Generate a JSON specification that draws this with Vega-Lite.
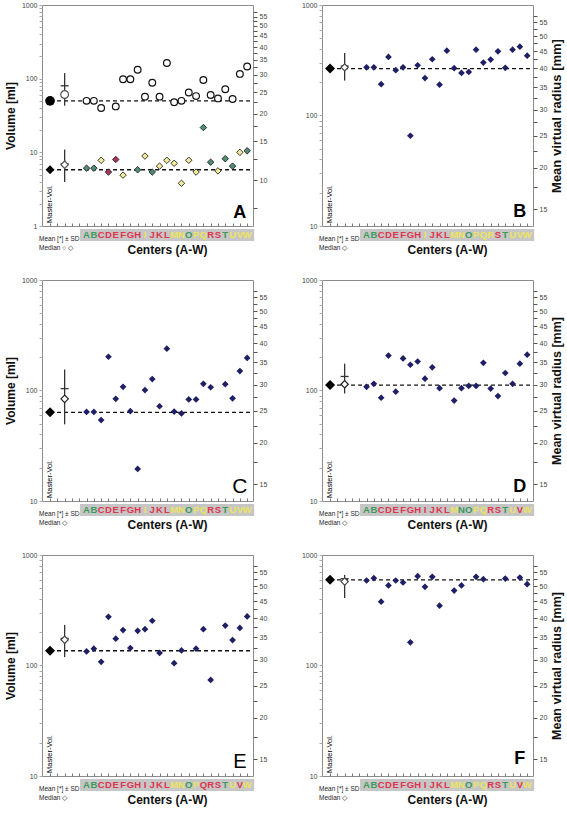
{
"$schema": "https://vega.github.io/schema/vega-lite/v6.json",
"padding": {"left": 3, "top": 0, "right": 2, "bottom": 2},
"config": {
  "font": "Liberation Sans",
  "view": {"stroke": "#8c8c8c", "strokeWidth": 1},
  "axis": {"grid": false, "labelFontSize": 7, "labelColor": "#444", "labelFont": "Liberation Sans", "titleFont": "Liberation Sans Narrow, Liberation Sans", "titleFontWeight": "bold", "titleColor": "#111", "titleFontSize": 12},
  "point": {"opacity": 1},
  "tick": {"opacity": 1}
},
"datasets": {
  "points": [
    {"panel":"A","series":"ring","center":"A","volume":50},{"panel":"A","series":"ring","center":"B","volume":50},{"panel":"A","series":"ring","center":"C","volume":40},{"panel":"A","series":"ring","center":"E","volume":42},{"panel":"A","series":"ring","center":"F","volume":98},{"panel":"A","series":"ring","center":"G","volume":98},{"panel":"A","series":"ring","center":"H","volume":132},{"panel":"A","series":"ring","center":"I","volume":57},{"panel":"A","series":"ring","center":"J","volume":88},{"panel":"A","series":"ring","center":"K","volume":57},{"panel":"A","series":"ring","center":"L","volume":163},{"panel":"A","series":"ring","center":"M","volume":48},{"panel":"A","series":"ring","center":"N","volume":50},{"panel":"A","series":"ring","center":"O","volume":65},{"panel":"A","series":"ring","center":"P","volume":58},{"panel":"A","series":"ring","center":"Q","volume":96},{"panel":"A","series":"ring","center":"R","volume":60},{"panel":"A","series":"ring","center":"S","volume":54},{"panel":"A","series":"ring","center":"T","volume":72},{"panel":"A","series":"ring","center":"U","volume":53},{"panel":"A","series":"ring","center":"V","volume":116},{"panel":"A","series":"ring","center":"W","volume":146},
    {"panel":"A","series":"diamond","center":"A","volume":6.1,"grp":"green"},{"panel":"A","series":"diamond","center":"B","volume":6.1,"grp":"green"},{"panel":"A","series":"diamond","center":"C","volume":7.8,"grp":"yellow"},{"panel":"A","series":"diamond","center":"D","volume":5.4,"grp":"red"},{"panel":"A","series":"diamond","center":"E","volume":8.0,"grp":"red"},{"panel":"A","series":"diamond","center":"F","volume":4.9,"grp":"yellow"},{"panel":"A","series":"diamond","center":"H","volume":5.8,"grp":"green"},{"panel":"A","series":"diamond","center":"I","volume":8.9,"grp":"yellow"},{"panel":"A","series":"diamond","center":"J","volume":5.4,"grp":"green"},{"panel":"A","series":"diamond","center":"K","volume":6.5,"grp":"yellow"},{"panel":"A","series":"diamond","center":"L","volume":7.8,"grp":"yellow"},{"panel":"A","series":"diamond","center":"M","volume":7.1,"grp":"yellow"},{"panel":"A","series":"diamond","center":"N","volume":3.8,"grp":"yellow"},{"panel":"A","series":"diamond","center":"O","volume":7.8,"grp":"yellow"},{"panel":"A","series":"diamond","center":"P","volume":5.4,"grp":"yellow"},{"panel":"A","series":"diamond","center":"Q","volume":21.7,"grp":"green"},{"panel":"A","series":"diamond","center":"R","volume":7.35,"grp":"green"},{"panel":"A","series":"diamond","center":"S","volume":5.6,"grp":"yellow"},{"panel":"A","series":"diamond","center":"T","volume":8.2,"grp":"green"},{"panel":"A","series":"diamond","center":"U","volume":6.5,"grp":"green"},{"panel":"A","series":"diamond","center":"V","volume":10.0,"grp":"yellow"},{"panel":"A","series":"diamond","center":"W","volume":10.5,"grp":"green"},
    {"panel":"B","center":"A","volume":273},{"panel":"B","center":"B","volume":273},{"panel":"B","center":"C","volume":192},{"panel":"B","center":"D","volume":339},{"panel":"B","center":"E","volume":257},{"panel":"B","center":"F","volume":273},{"panel":"B","center":"G","volume":65.6},{"panel":"B","center":"H","volume":285},{"panel":"B","center":"I","volume":218},{"panel":"B","center":"J","volume":323},{"panel":"B","center":"K","volume":190},{"panel":"B","center":"L","volume":386},{"panel":"B","center":"M","volume":268},{"panel":"B","center":"N","volume":243},{"panel":"B","center":"O","volume":248},{"panel":"B","center":"P","volume":394},{"panel":"B","center":"Q","volume":301},{"panel":"B","center":"R","volume":321},{"panel":"B","center":"S","volume":381},{"panel":"B","center":"T","volume":270},{"panel":"B","center":"U","volume":394},{"panel":"B","center":"V","volume":420},{"panel":"B","center":"W","volume":348},
    {"panel":"C","center":"A","volume":64},{"panel":"C","center":"B","volume":64},{"panel":"C","center":"C","volume":54},{"panel":"C","center":"D","volume":202},{"panel":"C","center":"E","volume":84},{"panel":"C","center":"F","volume":108},{"panel":"C","center":"G","volume":65},{"panel":"C","center":"H","volume":19.5},{"panel":"C","center":"I","volume":101},{"panel":"C","center":"J","volume":127},{"panel":"C","center":"K","volume":72},{"panel":"C","center":"L","volume":239},{"panel":"C","center":"M","volume":64.5},{"panel":"C","center":"N","volume":62},{"panel":"C","center":"O","volume":83},{"panel":"C","center":"P","volume":83},{"panel":"C","center":"Q","volume":115},{"panel":"C","center":"R","volume":107},{"panel":"C","center":"T","volume":114},{"panel":"C","center":"U","volume":85},{"panel":"C","center":"V","volume":150},{"panel":"C","center":"W","volume":197},
    {"panel":"D","center":"A","volume":108},{"panel":"D","center":"B","volume":115},{"panel":"D","center":"C","volume":86},{"panel":"D","center":"D","volume":207},{"panel":"D","center":"E","volume":97.6},{"panel":"D","center":"F","volume":195},{"panel":"D","center":"G","volume":171},{"panel":"D","center":"H","volume":183},{"panel":"D","center":"I","volume":128},{"panel":"D","center":"J","volume":162},{"panel":"D","center":"K","volume":105},{"panel":"D","center":"M","volume":81},{"panel":"D","center":"N","volume":105},{"panel":"D","center":"O","volume":110},{"panel":"D","center":"P","volume":110},{"panel":"D","center":"Q","volume":178},{"panel":"D","center":"R","volume":104},{"panel":"D","center":"S","volume":89},{"panel":"D","center":"T","volume":144},{"panel":"D","center":"U","volume":115},{"panel":"D","center":"V","volume":175},{"panel":"D","center":"W","volume":211},
    {"panel":"E","center":"A","volume":134},{"panel":"E","center":"B","volume":142},{"panel":"E","center":"C","volume":108},{"panel":"E","center":"D","volume":276},{"panel":"E","center":"E","volume":175},{"panel":"E","center":"F","volume":209},{"panel":"E","center":"G","volume":144},{"panel":"E","center":"H","volume":206},{"panel":"E","center":"I","volume":213},{"panel":"E","center":"J","volume":254},{"panel":"E","center":"K","volume":130},{"panel":"E","center":"M","volume":105},{"panel":"E","center":"N","volume":137},{"panel":"E","center":"P","volume":142},{"panel":"E","center":"Q","volume":213},{"panel":"E","center":"R","volume":74},{"panel":"E","center":"T","volume":230},{"panel":"E","center":"U","volume":170},{"panel":"E","center":"V","volume":219},{"panel":"E","center":"W","volume":278},
    {"panel":"F","center":"A","volume":588},{"panel":"F","center":"B","volume":617},{"panel":"F","center":"C","volume":378},{"panel":"F","center":"D","volume":530},{"panel":"F","center":"E","volume":588},{"panel":"F","center":"F","volume":564},{"panel":"F","center":"G","volume":162},{"panel":"F","center":"H","volume":643},{"panel":"F","center":"I","volume":515},{"panel":"F","center":"J","volume":634},{"panel":"F","center":"K","volume":348},{"panel":"F","center":"M","volume":477},{"panel":"F","center":"N","volume":530},{"panel":"F","center":"P","volume":634},{"panel":"F","center":"Q","volume":604},{"panel":"F","center":"T","volume":612},{"panel":"F","center":"V","volume":625},{"panel":"F","center":"W","volume":545}
  ],
  "summary": [
    {"panel":"A","series":"ring","master":50,"mean":80,"median":61,"sd_lo":43,"sd_hi":119},
    {"panel":"A","series":"diamond","master":5.8,"mean":7.0,"median":6.8,"sd_lo":3.95,"sd_hi":10.9},
    {"panel":"B","series":"diamond","master":266,"mean":280,"median":273,"sd_lo":207,"sd_hi":368},
    {"panel":"C","series":"diamond","master":63.5,"mean":104,"median":84,"sd_lo":49.4,"sd_hi":155},
    {"panel":"D","series":"diamond","master":112,"mean":134,"median":114,"sd_lo":94,"sd_hi":175},
    {"panel":"E","series":"diamond","master":136,"mean":176,"median":171,"sd_lo":119,"sd_hi":233},
    {"panel":"F","series":"diamond","master":596,"mean":610,"median":575,"sd_lo":408,"sd_hi":661}
  ],
  "strip": [
    {"panel":"A","center":"A","grp":"green"},{"panel":"A","center":"B","grp":"green"},{"panel":"A","center":"C","grp":"red"},{"panel":"A","center":"D","grp":"red"},{"panel":"A","center":"E","grp":"red"},{"panel":"A","center":"F","grp":"red"},{"panel":"A","center":"G","grp":"red"},{"panel":"A","center":"H","grp":"red"},{"panel":"A","center":"I","grp":"yellow"},{"panel":"A","center":"J","grp":"red"},{"panel":"A","center":"K","grp":"red"},{"panel":"A","center":"L","grp":"red"},{"panel":"A","center":"M","grp":"yellow"},{"panel":"A","center":"N","grp":"yellow"},{"panel":"A","center":"O","grp":"green"},{"panel":"A","center":"P","grp":"yellow"},{"panel":"A","center":"Q","grp":"yellow"},{"panel":"A","center":"R","grp":"red"},{"panel":"A","center":"S","grp":"red"},{"panel":"A","center":"T","grp":"green"},{"panel":"A","center":"U","grp":"yellow"},{"panel":"A","center":"V","grp":"yellow"},{"panel":"A","center":"W","grp":"yellow"},
    {"panel":"B","center":"A","grp":"green"},{"panel":"B","center":"B","grp":"green"},{"panel":"B","center":"C","grp":"red"},{"panel":"B","center":"D","grp":"red"},{"panel":"B","center":"E","grp":"red"},{"panel":"B","center":"F","grp":"red"},{"panel":"B","center":"G","grp":"red"},{"panel":"B","center":"H","grp":"red"},{"panel":"B","center":"I","grp":"yellow"},{"panel":"B","center":"J","grp":"red"},{"panel":"B","center":"K","grp":"red"},{"panel":"B","center":"L","grp":"red"},{"panel":"B","center":"M","grp":"yellow"},{"panel":"B","center":"N","grp":"yellow"},{"panel":"B","center":"O","grp":"green"},{"panel":"B","center":"P","grp":"yellow"},{"panel":"B","center":"Q","grp":"yellow"},{"panel":"B","center":"R","grp":"yellow"},{"panel":"B","center":"S","grp":"red"},{"panel":"B","center":"T","grp":"green"},{"panel":"B","center":"U","grp":"yellow"},{"panel":"B","center":"V","grp":"yellow"},{"panel":"B","center":"W","grp":"yellow"},
    {"panel":"C","center":"A","grp":"green"},{"panel":"C","center":"B","grp":"green"},{"panel":"C","center":"C","grp":"red"},{"panel":"C","center":"D","grp":"red"},{"panel":"C","center":"E","grp":"red"},{"panel":"C","center":"F","grp":"red"},{"panel":"C","center":"G","grp":"red"},{"panel":"C","center":"H","grp":"red"},{"panel":"C","center":"I","grp":"yellow"},{"panel":"C","center":"J","grp":"red"},{"panel":"C","center":"K","grp":"red"},{"panel":"C","center":"L","grp":"red"},{"panel":"C","center":"M","grp":"yellow"},{"panel":"C","center":"N","grp":"yellow"},{"panel":"C","center":"O","grp":"green"},{"panel":"C","center":"P","grp":"yellow"},{"panel":"C","center":"Q","grp":"yellow"},{"panel":"C","center":"R","grp":"red"},{"panel":"C","center":"S","grp":"red"},{"panel":"C","center":"T","grp":"green"},{"panel":"C","center":"U","grp":"yellow"},{"panel":"C","center":"V","grp":"yellow"},{"panel":"C","center":"W","grp":"yellow"},
    {"panel":"D","center":"A","grp":"green"},{"panel":"D","center":"B","grp":"green"},{"panel":"D","center":"C","grp":"red"},{"panel":"D","center":"D","grp":"red"},{"panel":"D","center":"E","grp":"red"},{"panel":"D","center":"F","grp":"red"},{"panel":"D","center":"G","grp":"red"},{"panel":"D","center":"H","grp":"red"},{"panel":"D","center":"I","grp":"red"},{"panel":"D","center":"J","grp":"red"},{"panel":"D","center":"K","grp":"red"},{"panel":"D","center":"L","grp":"red"},{"panel":"D","center":"M","grp":"yellow"},{"panel":"D","center":"N","grp":"green"},{"panel":"D","center":"O","grp":"green"},{"panel":"D","center":"P","grp":"yellow"},{"panel":"D","center":"Q","grp":"yellow"},{"panel":"D","center":"R","grp":"red"},{"panel":"D","center":"S","grp":"red"},{"panel":"D","center":"T","grp":"green"},{"panel":"D","center":"U","grp":"yellow"},{"panel":"D","center":"V","grp":"red"},{"panel":"D","center":"W","grp":"yellow"},
    {"panel":"E","center":"A","grp":"green"},{"panel":"E","center":"B","grp":"green"},{"panel":"E","center":"C","grp":"red"},{"panel":"E","center":"D","grp":"red"},{"panel":"E","center":"E","grp":"red"},{"panel":"E","center":"F","grp":"red"},{"panel":"E","center":"G","grp":"red"},{"panel":"E","center":"H","grp":"red"},{"panel":"E","center":"I","grp":"red"},{"panel":"E","center":"J","grp":"red"},{"panel":"E","center":"K","grp":"red"},{"panel":"E","center":"L","grp":"red"},{"panel":"E","center":"M","grp":"yellow"},{"panel":"E","center":"N","grp":"yellow"},{"panel":"E","center":"O","grp":"green"},{"panel":"E","center":"P","grp":"yellow"},{"panel":"E","center":"Q","grp":"red"},{"panel":"E","center":"R","grp":"red"},{"panel":"E","center":"S","grp":"red"},{"panel":"E","center":"T","grp":"green"},{"panel":"E","center":"U","grp":"yellow"},{"panel":"E","center":"V","grp":"red"},{"panel":"E","center":"W","grp":"yellow"},
    {"panel":"F","center":"A","grp":"green"},{"panel":"F","center":"B","grp":"green"},{"panel":"F","center":"C","grp":"red"},{"panel":"F","center":"D","grp":"red"},{"panel":"F","center":"E","grp":"red"},{"panel":"F","center":"F","grp":"red"},{"panel":"F","center":"G","grp":"red"},{"panel":"F","center":"H","grp":"red"},{"panel":"F","center":"I","grp":"red"},{"panel":"F","center":"J","grp":"red"},{"panel":"F","center":"K","grp":"red"},{"panel":"F","center":"L","grp":"red"},{"panel":"F","center":"M","grp":"yellow"},{"panel":"F","center":"N","grp":"yellow"},{"panel":"F","center":"O","grp":"green"},{"panel":"F","center":"P","grp":"yellow"},{"panel":"F","center":"Q","grp":"yellow"},{"panel":"F","center":"R","grp":"red"},{"panel":"F","center":"S","grp":"red"},{"panel":"F","center":"T","grp":"green"},{"panel":"F","center":"U","grp":"yellow"},{"panel":"F","center":"V","grp":"red"},{"panel":"F","center":"W","grp":"yellow"}
  ]
},
"spacing": 20,
"vconcat": [
 {"hconcat": [
  {"vconcat": [
   {"width": 211, "height": 221,
    "resolve": {"scale": {"y": "independent"}, "axis": {"y": "independent"}},
    "layer": [
     {"data": {"values": [{}]}, "mark": {"type": "rule", "opacity": 0},
      "encoding": {"y": {"datum": 20, "type": "quantitative", "scale": {"type": "log", "domain": [6.2035, 62.035], "nice": false},
        "axis": {"orient": "right", "values": [7.5,10,12.5,15,17.5,20,22.5,25,27.5,30,32.5,35,37.5,40,42.5,45,47.5,50,52.5,55,57.5], "labelExpr": "datum.value % 5 === 0 ? format(datum.value, 'd') : ''", "labelOverlap": false, "domain": false, "tickSize": 4, "tickColor": "#555", "labelPadding": 2, "title": null}}}},
     {"layer": [
      {"data": {"name": "summary"}, "transform": [{"filter": "datum.panel === 'A'"}],
       "mark": {"type": "rule", "strokeDash": [4, 3], "strokeWidth": 1.3, "color": "#111"},
       "encoding": {
        "x": {"datum": "Master", "type": "nominal", "scale": {"type": "point", "domain": ["Master","gap1","Mean","gap2","gap3","A","B","C","D","E","F","G","H","I","J","K","L","M","N","O","P","Q","R","S","T","U","V","W"], "padding": 0.95, "align": 0.58},
          "axis": {"orient": "bottom", "labels": false, "title": null, "domain": false, "tickSize": -3, "tickColor": "#777"}},
        "x2": {"value": "width"},
        "y": {"field": "master", "type": "quantitative", "scale": {"type": "log", "domain": [1, 1000], "nice": false},
          "axis": {"orient": "left", "values": [1,2,3,4,5,6,7,8,9,10,20,30,40,50,60,70,80,90,100,200,300,400,500,600,700,800,900,1000], "format": "d", "labelExpr": "indexof([1,10,100,1000], datum.value) >= 0 ? datum.label : ''", "labelOverlap": false, "domain": false, "tickSize": 3, "tickColor": "#aaa", "labelPadding": 2, "title": "Volume [ml]", "titlePadding": 4}}}},
      {"data": {"name": "summary"}, "transform": [{"filter": "datum.panel === 'A'"}],
       "mark": {"type": "rule", "strokeWidth": 1.3, "color": "#333"},
       "encoding": {"x": {"datum": "Mean", "type": "nominal"}, "y": {"field": "sd_lo", "type": "quantitative"}, "y2": {"field": "sd_hi"}}},
      {"data": {"name": "summary"}, "transform": [{"filter": "datum.panel === 'A'"}],
       "mark": {"type": "tick", "orient": "horizontal", "size": 8, "thickness": 1.3, "color": "#333", "opacity": 1},
       "encoding": {"x": {"datum": "Mean", "type": "nominal"}, "y": {"field": "mean", "type": "quantitative"}}},
      {"data": {"name": "points"}, "transform": [{"filter": "datum.panel === 'A' && datum.series === 'ring'"}],
       "mark": {"type": "point", "shape": "circle", "filled": true, "fill": "white", "stroke": "#111", "strokeWidth": 1.2, "size": 45, "opacity": 1},
       "encoding": {"x": {"field": "center", "type": "nominal"}, "y": {"field": "volume", "type": "quantitative"}}},
      {"data": {"name": "points"}, "transform": [{"filter": "datum.panel === 'A' && datum.series === 'diamond'"}],
       "mark": {"type": "point", "shape": "diamond", "filled": true, "stroke": "#222", "strokeWidth": 0.9, "size": 42, "opacity": 1},
       "encoding": {"x": {"field": "center", "type": "nominal"}, "y": {"field": "volume", "type": "quantitative"},
        "fill": {"field": "grp", "type": "nominal", "scale": {"domain": ["green","red","yellow"], "range": ["#4e8d72","#a8375a","#f3eb9a"]}, "legend": null}}},
      {"data": {"name": "summary"}, "transform": [{"filter": "datum.panel === 'A' && datum.series === 'ring'"}],
       "mark": {"type": "point", "shape": "circle", "filled": true, "color": "#000", "size": 95, "opacity": 1},
       "encoding": {"x": {"datum": "Master", "type": "nominal"}, "y": {"field": "master", "type": "quantitative"}}},
      {"data": {"name": "summary"}, "transform": [{"filter": "datum.panel === 'A' && datum.series === 'diamond'"}],
       "mark": {"type": "point", "shape": "diamond", "filled": true, "color": "#000", "size": 80, "opacity": 1},
       "encoding": {"x": {"datum": "Master", "type": "nominal"}, "y": {"field": "master", "type": "quantitative"}}},
      {"data": {"name": "summary"}, "transform": [{"filter": "datum.panel === 'A' && datum.series === 'ring'"}],
       "mark": {"type": "point", "shape": "circle", "filled": true, "fill": "white", "stroke": "#555", "strokeWidth": 1.2, "size": 60, "opacity": 1},
       "encoding": {"x": {"datum": "Mean", "type": "nominal"}, "y": {"field": "median", "type": "quantitative"}}},
      {"data": {"name": "summary"}, "transform": [{"filter": "datum.panel === 'A' && datum.series === 'diamond'"}],
       "mark": {"type": "point", "shape": "diamond", "filled": true, "fill": "white", "stroke": "#555", "strokeWidth": 1.2, "size": 55, "opacity": 1},
       "encoding": {"x": {"datum": "Mean", "type": "nominal"}, "y": {"field": "median", "type": "quantitative"}}},
      {"data": {"values": [{"label": "Master-Vol."}]},
       "mark": {"type": "text", "angle": 270, "align": "left", "baseline": "middle", "dx": 3, "fontSize": 7.5, "color": "#000"},
       "encoding": {"x": {"datum": "Master", "type": "nominal"}, "y": {"datum": 1, "type": "quantitative"}, "text": {"field": "label"}}},
      {"data": {"values": [{"label": "A"}]},
       "mark": {"type": "text", "fontSize": 18, "fontWeight": "bold", "baseline": "alphabetic", "dy": -8, "color": "#000"},
       "encoding": {"x": {"datum": "V", "type": "nominal"}, "y": {"datum": 1, "type": "quantitative"}, "text": {"field": "label"}}}
     ]}
    ]},
   {"width": 211, "height": 12, "view": {"stroke": null},
    "layer": [
     {"data": {"values": [{"first": "A", "last": "W"}]},
      "mark": {"type": "rect", "color": "#c6c6c6", "xOffset": -6.5, "x2Offset": 7},
      "encoding": {"x": {"field": "first", "type": "nominal", "scale": {"type": "point", "domain": ["Master","gap1","Mean","gap2","gap3","A","B","C","D","E","F","G","H","I","J","K","L","M","N","O","P","Q","R","S","T","U","V","W"], "padding": 0.95, "align": 0.58},
        "axis": {"orient": "bottom", "labels": false, "ticks": false, "domain": false, "title": "Centers (A-W)", "titleFontSize": 12, "titlePadding": 3, "titleX": 125}},
       "x2": {"field": "last"}}},
     {"data": {"name": "strip"}, "transform": [{"filter": "datum.panel === 'A'"}],
      "mark": {"type": "text", "fontWeight": "bold", "fontSize": 9.5},
      "encoding": {"x": {"field": "center", "type": "nominal"}, "text": {"field": "center"},
       "color": {"field": "grp", "type": "nominal", "scale": {"domain": ["green","red","yellow"], "range": ["#3a9a5c","#e0344e","#ece35e"]}, "legend": null}}},
     {"data": {"values": [{"label": "Mean [*] ± SD\nMedian ○ ◇"}]},
      "mark": {"type": "text", "lineBreak": "\n", "font": "Liberation Sans Narrow, Liberation Sans", "fontSize": 6.5, "align": "left", "dx": -11, "dy": 4, "lineHeight": 9, "color": "#222"},
      "encoding": {"x": {"datum": "Master", "type": "nominal"}, "text": {"field": "label"}}}
    ]}
  ], "spacing": 3, "bounds": "flush"},
  {"vconcat": [
   {"width": 211, "height": 221,
    "resolve": {"scale": {"y": "independent"}, "axis": {"y": "independent"}},
    "layer": [
     {"data": {"values": [{}]}, "mark": {"type": "rule", "opacity": 0},
      "encoding": {"y": {"datum": 20, "type": "quantitative", "scale": {"type": "log", "domain": [13.365, 62.035], "nice": false},
        "axis": {"orient": "right", "values": [15,17.5,20,22.5,25,27.5,30,32.5,35,37.5,40,42.5,45,47.5,50,52.5,55,57.5], "labelExpr": "datum.value % 5 === 0 ? format(datum.value, 'd') : ''", "labelOverlap": false, "domain": false, "tickSize": 4, "tickColor": "#555", "labelPadding": 2, "title": "Mean virtual radius [mm]", "titlePadding": 4, "titleFontSize": 13, "titleAngle": 270, "titleBaseline": "top"}}}},
     {"layer": [
      {"data": {"name": "summary"}, "transform": [{"filter": "datum.panel === 'B'"}],
       "mark": {"type": "rule", "strokeDash": [4, 3], "strokeWidth": 1.3, "color": "#111"},
       "encoding": {
        "x": {"datum": "Master", "type": "nominal", "scale": {"type": "point", "domain": ["Master","gap1","Mean","gap2","gap3","A","B","C","D","E","F","G","H","I","J","K","L","M","N","O","P","Q","R","S","T","U","V","W"], "padding": 0.95, "align": 0.58},
          "axis": {"orient": "bottom", "labels": false, "title": null, "domain": false, "tickSize": -3, "tickColor": "#777"}},
        "x2": {"value": "width"},
        "y": {"field": "master", "type": "quantitative", "scale": {"type": "log", "domain": [10, 1000], "nice": false},
          "axis": {"orient": "left", "values": [10,20,30,40,50,60,70,80,90,100,200,300,400,500,600,700,800,900,1000], "format": "d", "labelExpr": "indexof([10,100,1000], datum.value) >= 0 ? datum.label : ''", "labelOverlap": false, "domain": false, "tickSize": 3, "tickColor": "#aaa", "labelPadding": 2, "title": null}}}},
      {"data": {"name": "summary"}, "transform": [{"filter": "datum.panel === 'B'"}],
       "mark": {"type": "rule", "strokeWidth": 1.3, "color": "#333"},
       "encoding": {"x": {"datum": "Mean", "type": "nominal"}, "y": {"field": "sd_lo", "type": "quantitative"}, "y2": {"field": "sd_hi"}}},
      {"data": {"name": "summary"}, "transform": [{"filter": "datum.panel === 'B'"}],
       "mark": {"type": "tick", "orient": "horizontal", "size": 8, "thickness": 1.3, "color": "#333", "opacity": 1},
       "encoding": {"x": {"datum": "Mean", "type": "nominal"}, "y": {"field": "mean", "type": "quantitative"}}},
      {"data": {"name": "points"}, "transform": [{"filter": "datum.panel === 'B'"}],
       "mark": {"type": "point", "shape": "diamond", "filled": true, "color": "#1f1f66", "size": 45, "opacity": 1},
       "encoding": {"x": {"field": "center", "type": "nominal"}, "y": {"field": "volume", "type": "quantitative"}}},
      {"data": {"name": "summary"}, "transform": [{"filter": "datum.panel === 'B'"}],
       "mark": {"type": "point", "shape": "diamond", "filled": true, "color": "#000", "size": 100, "opacity": 1},
       "encoding": {"x": {"datum": "Master", "type": "nominal"}, "y": {"field": "master", "type": "quantitative"}}},
      {"data": {"name": "summary"}, "transform": [{"filter": "datum.panel === 'B'"}],
       "mark": {"type": "point", "shape": "diamond", "filled": true, "fill": "white", "stroke": "#444", "strokeWidth": 1.2, "size": 50, "opacity": 1},
       "encoding": {"x": {"datum": "Mean", "type": "nominal"}, "y": {"field": "median", "type": "quantitative"}}},
      {"data": {"values": [{"label": "Master-Vol."}]},
       "mark": {"type": "text", "angle": 270, "align": "left", "baseline": "middle", "dx": 3, "fontSize": 7.5, "color": "#000"},
       "encoding": {"x": {"datum": "Master", "type": "nominal"}, "y": {"datum": 10, "type": "quantitative"}, "text": {"field": "label"}}},
      {"data": {"values": [{"label": "B"}]},
       "mark": {"type": "text", "fontSize": 18, "fontWeight": "bold", "baseline": "alphabetic", "dy": -9, "color": "#000"},
       "encoding": {"x": {"datum": "V", "type": "nominal"}, "y": {"datum": 10, "type": "quantitative"}, "text": {"field": "label"}}}
     ]}
    ]},
   {"width": 211, "height": 12, "view": {"stroke": null},
    "layer": [
     {"data": {"values": [{"first": "A", "last": "W"}]},
      "mark": {"type": "rect", "color": "#c6c6c6", "xOffset": -6.5, "x2Offset": 7},
      "encoding": {"x": {"field": "first", "type": "nominal", "scale": {"type": "point", "domain": ["Master","gap1","Mean","gap2","gap3","A","B","C","D","E","F","G","H","I","J","K","L","M","N","O","P","Q","R","S","T","U","V","W"], "padding": 0.95, "align": 0.58},
        "axis": {"orient": "bottom", "labels": false, "ticks": false, "domain": false, "title": "Centers (A-W)", "titleFontSize": 12, "titlePadding": 3, "titleX": 125}},
       "x2": {"field": "last"}}},
     {"data": {"name": "strip"}, "transform": [{"filter": "datum.panel === 'B'"}],
      "mark": {"type": "text", "fontWeight": "bold", "fontSize": 9.5},
      "encoding": {"x": {"field": "center", "type": "nominal"}, "text": {"field": "center"},
       "color": {"field": "grp", "type": "nominal", "scale": {"domain": ["green","red","yellow"], "range": ["#3a9a5c","#e0344e","#ece35e"]}, "legend": null}}},
     {"data": {"values": [{"label": "Mean [*] ± SD\nMedian ◇"}]},
      "mark": {"type": "text", "lineBreak": "\n", "font": "Liberation Sans Narrow, Liberation Sans", "fontSize": 6.5, "align": "left", "dx": -11, "dy": 4, "lineHeight": 9, "color": "#222"},
      "encoding": {"x": {"datum": "Master", "type": "nominal"}, "text": {"field": "label"}}}
    ]}
  ], "spacing": 3, "bounds": "flush"}
 ], "spacing": 32},
 {"hconcat": [
  {"vconcat": [
   {"width": 211, "height": 221,
    "resolve": {"scale": {"y": "independent"}, "axis": {"y": "independent"}},
    "layer": [
     {"data": {"values": [{}]}, "mark": {"type": "rule", "opacity": 0},
      "encoding": {"y": {"datum": 20, "type": "quantitative", "scale": {"type": "log", "domain": [13.365, 62.035], "nice": false},
        "axis": {"orient": "right", "values": [15,17.5,20,22.5,25,27.5,30,32.5,35,37.5,40,42.5,45,47.5,50,52.5,55,57.5], "labelExpr": "datum.value % 5 === 0 ? format(datum.value, 'd') : ''", "labelOverlap": false, "domain": false, "tickSize": 4, "tickColor": "#555", "labelPadding": 2, "title": null}}}},
     {"layer": [
      {"data": {"name": "summary"}, "transform": [{"filter": "datum.panel === 'C'"}],
       "mark": {"type": "rule", "strokeDash": [4, 3], "strokeWidth": 1.3, "color": "#111"},
       "encoding": {
        "x": {"datum": "Master", "type": "nominal", "scale": {"type": "point", "domain": ["Master","gap1","Mean","gap2","gap3","A","B","C","D","E","F","G","H","I","J","K","L","M","N","O","P","Q","R","S","T","U","V","W"], "padding": 0.95, "align": 0.58},
          "axis": {"orient": "bottom", "labels": false, "title": null, "domain": false, "tickSize": -3, "tickColor": "#777"}},
        "x2": {"value": "width"},
        "y": {"field": "master", "type": "quantitative", "scale": {"type": "log", "domain": [10, 1000], "nice": false},
          "axis": {"orient": "left", "values": [10,20,30,40,50,60,70,80,90,100,200,300,400,500,600,700,800,900,1000], "format": "d", "labelExpr": "indexof([10,100,1000], datum.value) >= 0 ? datum.label : ''", "labelOverlap": false, "domain": false, "tickSize": 3, "tickColor": "#aaa", "labelPadding": 2, "title": "Volume [ml]", "titlePadding": 4}}}},
      {"data": {"name": "summary"}, "transform": [{"filter": "datum.panel === 'C'"}],
       "mark": {"type": "rule", "strokeWidth": 1.3, "color": "#333"},
       "encoding": {"x": {"datum": "Mean", "type": "nominal"}, "y": {"field": "sd_lo", "type": "quantitative"}, "y2": {"field": "sd_hi"}}},
      {"data": {"name": "summary"}, "transform": [{"filter": "datum.panel === 'C'"}],
       "mark": {"type": "tick", "orient": "horizontal", "size": 8, "thickness": 1.3, "color": "#333", "opacity": 1},
       "encoding": {"x": {"datum": "Mean", "type": "nominal"}, "y": {"field": "mean", "type": "quantitative"}}},
      {"data": {"name": "points"}, "transform": [{"filter": "datum.panel === 'C'"}],
       "mark": {"type": "point", "shape": "diamond", "filled": true, "color": "#1f1f66", "size": 45, "opacity": 1},
       "encoding": {"x": {"field": "center", "type": "nominal"}, "y": {"field": "volume", "type": "quantitative"}}},
      {"data": {"name": "summary"}, "transform": [{"filter": "datum.panel === 'C'"}],
       "mark": {"type": "point", "shape": "diamond", "filled": true, "color": "#000", "size": 100, "opacity": 1},
       "encoding": {"x": {"datum": "Master", "type": "nominal"}, "y": {"field": "master", "type": "quantitative"}}},
      {"data": {"name": "summary"}, "transform": [{"filter": "datum.panel === 'C'"}],
       "mark": {"type": "point", "shape": "diamond", "filled": true, "fill": "white", "stroke": "#222", "strokeWidth": 1.2, "size": 55, "opacity": 1},
       "encoding": {"x": {"datum": "Mean", "type": "nominal"}, "y": {"field": "median", "type": "quantitative"}}},
      {"data": {"values": [{"label": "Master-Vol."}]},
       "mark": {"type": "text", "angle": 270, "align": "left", "baseline": "middle", "dx": 3, "fontSize": 7.5, "color": "#000"},
       "encoding": {"x": {"datum": "Master", "type": "nominal"}, "y": {"datum": 10, "type": "quantitative"}, "text": {"field": "label"}}},
      {"data": {"values": [{"label": "C"}]},
       "mark": {"type": "text", "fontSize": 21, "fontWeight": "normal", "baseline": "alphabetic", "dy": -8, "color": "#000"},
       "encoding": {"x": {"datum": "V", "type": "nominal"}, "y": {"datum": 10, "type": "quantitative"}, "text": {"field": "label"}}}
     ]}
    ]},
   {"width": 211, "height": 12, "view": {"stroke": null},
    "layer": [
     {"data": {"values": [{"first": "A", "last": "W"}]},
      "mark": {"type": "rect", "color": "#c6c6c6", "xOffset": -6.5, "x2Offset": 7},
      "encoding": {"x": {"field": "first", "type": "nominal", "scale": {"type": "point", "domain": ["Master","gap1","Mean","gap2","gap3","A","B","C","D","E","F","G","H","I","J","K","L","M","N","O","P","Q","R","S","T","U","V","W"], "padding": 0.95, "align": 0.58},
        "axis": {"orient": "bottom", "labels": false, "ticks": false, "domain": false, "title": "Centers (A-W)", "titleFontSize": 12, "titlePadding": 3, "titleX": 125}},
       "x2": {"field": "last"}}},
     {"data": {"name": "strip"}, "transform": [{"filter": "datum.panel === 'C'"}],
      "mark": {"type": "text", "fontWeight": "bold", "fontSize": 9.5},
      "encoding": {"x": {"field": "center", "type": "nominal"}, "text": {"field": "center"},
       "color": {"field": "grp", "type": "nominal", "scale": {"domain": ["green","red","yellow"], "range": ["#3a9a5c","#e0344e","#ece35e"]}, "legend": null}}},
     {"data": {"values": [{"label": "Mean [*] ± SD\nMedian ◇"}]},
      "mark": {"type": "text", "lineBreak": "\n", "font": "Liberation Sans Narrow, Liberation Sans", "fontSize": 6.5, "align": "left", "dx": -11, "dy": 4, "lineHeight": 9, "color": "#222"},
      "encoding": {"x": {"datum": "Master", "type": "nominal"}, "text": {"field": "label"}}}
    ]}
  ], "spacing": 3, "bounds": "flush"},
  {"vconcat": [
   {"width": 211, "height": 221,
    "resolve": {"scale": {"y": "independent"}, "axis": {"y": "independent"}},
    "layer": [
     {"data": {"values": [{}]}, "mark": {"type": "rule", "opacity": 0},
      "encoding": {"y": {"datum": 20, "type": "quantitative", "scale": {"type": "log", "domain": [13.365, 62.035], "nice": false},
        "axis": {"orient": "right", "values": [15,17.5,20,22.5,25,27.5,30,32.5,35,37.5,40,42.5,45,47.5,50,52.5,55,57.5], "labelExpr": "datum.value % 5 === 0 ? format(datum.value, 'd') : ''", "labelOverlap": false, "domain": false, "tickSize": 4, "tickColor": "#555", "labelPadding": 2, "title": "Mean virtual radius [mm]", "titlePadding": 4, "titleFontSize": 12.5, "titleAngle": 270, "titleBaseline": "top"}}}},
     {"layer": [
      {"data": {"name": "summary"}, "transform": [{"filter": "datum.panel === 'D'"}],
       "mark": {"type": "rule", "strokeDash": [4, 3], "strokeWidth": 1.3, "color": "#111"},
       "encoding": {
        "x": {"datum": "Master", "type": "nominal", "scale": {"type": "point", "domain": ["Master","gap1","Mean","gap2","gap3","A","B","C","D","E","F","G","H","I","J","K","L","M","N","O","P","Q","R","S","T","U","V","W"], "padding": 0.95, "align": 0.58},
          "axis": {"orient": "bottom", "labels": false, "title": null, "domain": false, "tickSize": -3, "tickColor": "#777"}},
        "x2": {"value": "width"},
        "y": {"field": "master", "type": "quantitative", "scale": {"type": "log", "domain": [10, 1000], "nice": false},
          "axis": {"orient": "left", "values": [10,20,30,40,50,60,70,80,90,100,200,300,400,500,600,700,800,900,1000], "format": "d", "labelExpr": "indexof([10,100,1000], datum.value) >= 0 ? datum.label : ''", "labelOverlap": false, "domain": false, "tickSize": 3, "tickColor": "#aaa", "labelPadding": 2, "title": null}}}},
      {"data": {"name": "summary"}, "transform": [{"filter": "datum.panel === 'D'"}],
       "mark": {"type": "rule", "strokeWidth": 1.3, "color": "#333"},
       "encoding": {"x": {"datum": "Mean", "type": "nominal"}, "y": {"field": "sd_lo", "type": "quantitative"}, "y2": {"field": "sd_hi"}}},
      {"data": {"name": "summary"}, "transform": [{"filter": "datum.panel === 'D'"}],
       "mark": {"type": "tick", "orient": "horizontal", "size": 8, "thickness": 1.3, "color": "#333", "opacity": 1},
       "encoding": {"x": {"datum": "Mean", "type": "nominal"}, "y": {"field": "mean", "type": "quantitative"}}},
      {"data": {"name": "points"}, "transform": [{"filter": "datum.panel === 'D'"}],
       "mark": {"type": "point", "shape": "diamond", "filled": true, "color": "#1f1f66", "size": 45, "opacity": 1},
       "encoding": {"x": {"field": "center", "type": "nominal"}, "y": {"field": "volume", "type": "quantitative"}}},
      {"data": {"name": "summary"}, "transform": [{"filter": "datum.panel === 'D'"}],
       "mark": {"type": "point", "shape": "diamond", "filled": true, "color": "#000", "size": 100, "opacity": 1},
       "encoding": {"x": {"datum": "Master", "type": "nominal"}, "y": {"field": "master", "type": "quantitative"}}},
      {"data": {"name": "summary"}, "transform": [{"filter": "datum.panel === 'D'"}],
       "mark": {"type": "point", "shape": "diamond", "filled": true, "fill": "white", "stroke": "#222", "strokeWidth": 1.2, "size": 55, "opacity": 1},
       "encoding": {"x": {"datum": "Mean", "type": "nominal"}, "y": {"field": "median", "type": "quantitative"}}},
      {"data": {"values": [{"label": "Master-Vol."}]},
       "mark": {"type": "text", "angle": 270, "align": "left", "baseline": "middle", "dx": 3, "fontSize": 7.5, "color": "#000"},
       "encoding": {"x": {"datum": "Master", "type": "nominal"}, "y": {"datum": 10, "type": "quantitative"}, "text": {"field": "label"}}},
      {"data": {"values": [{"label": "D"}]},
       "mark": {"type": "text", "fontSize": 18, "fontWeight": "bold", "baseline": "alphabetic", "dy": -9, "color": "#000"},
       "encoding": {"x": {"datum": "V", "type": "nominal"}, "y": {"datum": 10, "type": "quantitative"}, "text": {"field": "label"}}}
     ]}
    ]},
   {"width": 211, "height": 12, "view": {"stroke": null},
    "layer": [
     {"data": {"values": [{"first": "A", "last": "W"}]},
      "mark": {"type": "rect", "color": "#c6c6c6", "xOffset": -6.5, "x2Offset": 7},
      "encoding": {"x": {"field": "first", "type": "nominal", "scale": {"type": "point", "domain": ["Master","gap1","Mean","gap2","gap3","A","B","C","D","E","F","G","H","I","J","K","L","M","N","O","P","Q","R","S","T","U","V","W"], "padding": 0.95, "align": 0.58},
        "axis": {"orient": "bottom", "labels": false, "ticks": false, "domain": false, "title": "Centers (A-W)", "titleFontSize": 12, "titlePadding": 3, "titleX": 125}},
       "x2": {"field": "last"}}},
     {"data": {"name": "strip"}, "transform": [{"filter": "datum.panel === 'D'"}],
      "mark": {"type": "text", "fontWeight": "bold", "fontSize": 9.5},
      "encoding": {"x": {"field": "center", "type": "nominal"}, "text": {"field": "center"},
       "color": {"field": "grp", "type": "nominal", "scale": {"domain": ["green","red","yellow"], "range": ["#3a9a5c","#e0344e","#ece35e"]}, "legend": null}}},
     {"data": {"values": [{"label": "Mean [*] ± SD\nMedian ◇"}]},
      "mark": {"type": "text", "lineBreak": "\n", "font": "Liberation Sans Narrow, Liberation Sans", "fontSize": 6.5, "align": "left", "dx": -11, "dy": 4, "lineHeight": 9, "color": "#222"},
      "encoding": {"x": {"datum": "Master", "type": "nominal"}, "text": {"field": "label"}}}
    ]}
  ], "spacing": 3, "bounds": "flush"}
 ], "spacing": 32},
 {"hconcat": [
  {"vconcat": [
   {"width": 211, "height": 221,
    "resolve": {"scale": {"y": "independent"}, "axis": {"y": "independent"}},
    "layer": [
     {"data": {"values": [{}]}, "mark": {"type": "rule", "opacity": 0},
      "encoding": {"y": {"datum": 20, "type": "quantitative", "scale": {"type": "log", "domain": [13.365, 62.035], "nice": false},
        "axis": {"orient": "right", "values": [15,17.5,20,22.5,25,27.5,30,32.5,35,37.5,40,42.5,45,47.5,50,52.5,55,57.5], "labelExpr": "datum.value % 5 === 0 ? format(datum.value, 'd') : ''", "labelOverlap": false, "domain": false, "tickSize": 4, "tickColor": "#555", "labelPadding": 2, "title": null}}}},
     {"layer": [
      {"data": {"name": "summary"}, "transform": [{"filter": "datum.panel === 'E'"}],
       "mark": {"type": "rule", "strokeDash": [4, 3], "strokeWidth": 1.3, "color": "#111"},
       "encoding": {
        "x": {"datum": "Master", "type": "nominal", "scale": {"type": "point", "domain": ["Master","gap1","Mean","gap2","gap3","A","B","C","D","E","F","G","H","I","J","K","L","M","N","O","P","Q","R","S","T","U","V","W"], "padding": 0.95, "align": 0.58},
          "axis": {"orient": "bottom", "labels": false, "title": null, "domain": false, "tickSize": -3, "tickColor": "#777"}},
        "x2": {"value": "width"},
        "y": {"field": "master", "type": "quantitative", "scale": {"type": "log", "domain": [10, 1000], "nice": false},
          "axis": {"orient": "left", "values": [10,20,30,40,50,60,70,80,90,100,200,300,400,500,600,700,800,900,1000], "format": "d", "labelExpr": "indexof([10,100,1000], datum.value) >= 0 ? datum.label : ''", "labelOverlap": false, "domain": false, "tickSize": 3, "tickColor": "#aaa", "labelPadding": 2, "title": "Volume [ml]", "titlePadding": 4}}}},
      {"data": {"name": "summary"}, "transform": [{"filter": "datum.panel === 'E'"}],
       "mark": {"type": "rule", "strokeWidth": 1.3, "color": "#333"},
       "encoding": {"x": {"datum": "Mean", "type": "nominal"}, "y": {"field": "sd_lo", "type": "quantitative"}, "y2": {"field": "sd_hi"}}},
      {"data": {"name": "summary"}, "transform": [{"filter": "datum.panel === 'E'"}],
       "mark": {"type": "tick", "orient": "horizontal", "size": 8, "thickness": 1.3, "color": "#333", "opacity": 1},
       "encoding": {"x": {"datum": "Mean", "type": "nominal"}, "y": {"field": "mean", "type": "quantitative"}}},
      {"data": {"name": "points"}, "transform": [{"filter": "datum.panel === 'E'"}],
       "mark": {"type": "point", "shape": "diamond", "filled": true, "color": "#1f1f66", "size": 45, "opacity": 1},
       "encoding": {"x": {"field": "center", "type": "nominal"}, "y": {"field": "volume", "type": "quantitative"}}},
      {"data": {"name": "summary"}, "transform": [{"filter": "datum.panel === 'E'"}],
       "mark": {"type": "point", "shape": "diamond", "filled": true, "color": "#000", "size": 100, "opacity": 1},
       "encoding": {"x": {"datum": "Master", "type": "nominal"}, "y": {"field": "master", "type": "quantitative"}}},
      {"data": {"name": "summary"}, "transform": [{"filter": "datum.panel === 'E'"}],
       "mark": {"type": "point", "shape": "diamond", "filled": true, "fill": "white", "stroke": "#444", "strokeWidth": 1.2, "size": 55, "opacity": 1},
       "encoding": {"x": {"datum": "Mean", "type": "nominal"}, "y": {"field": "median", "type": "quantitative"}}},
      {"data": {"values": [{"label": "Master-Vol."}]},
       "mark": {"type": "text", "angle": 270, "align": "left", "baseline": "middle", "dx": 3, "fontSize": 7.5, "color": "#000"},
       "encoding": {"x": {"datum": "Master", "type": "nominal"}, "y": {"datum": 10, "type": "quantitative"}, "text": {"field": "label"}}},
      {"data": {"values": [{"label": "E"}]},
       "mark": {"type": "text", "fontSize": 20, "fontWeight": "normal", "baseline": "alphabetic", "dy": -8, "color": "#000"},
       "encoding": {"x": {"datum": "V", "type": "nominal"}, "y": {"datum": 10, "type": "quantitative"}, "text": {"field": "label"}}}
     ]}
    ]},
   {"width": 211, "height": 12, "view": {"stroke": null},
    "layer": [
     {"data": {"values": [{"first": "A", "last": "W"}]},
      "mark": {"type": "rect", "color": "#c6c6c6", "xOffset": -6.5, "x2Offset": 7},
      "encoding": {"x": {"field": "first", "type": "nominal", "scale": {"type": "point", "domain": ["Master","gap1","Mean","gap2","gap3","A","B","C","D","E","F","G","H","I","J","K","L","M","N","O","P","Q","R","S","T","U","V","W"], "padding": 0.95, "align": 0.58},
        "axis": {"orient": "bottom", "labels": false, "ticks": false, "domain": false, "title": "Centers (A-W)", "titleFontSize": 12, "titlePadding": 3, "titleX": 125}},
       "x2": {"field": "last"}}},
     {"data": {"name": "strip"}, "transform": [{"filter": "datum.panel === 'E'"}],
      "mark": {"type": "text", "fontWeight": "bold", "fontSize": 9.5},
      "encoding": {"x": {"field": "center", "type": "nominal"}, "text": {"field": "center"},
       "color": {"field": "grp", "type": "nominal", "scale": {"domain": ["green","red","yellow"], "range": ["#3a9a5c","#e0344e","#ece35e"]}, "legend": null}}},
     {"data": {"values": [{"label": "Mean [*] ± SD\nMedian ◇"}]},
      "mark": {"type": "text", "lineBreak": "\n", "font": "Liberation Sans Narrow, Liberation Sans", "fontSize": 6.5, "align": "left", "dx": -11, "dy": 4, "lineHeight": 9, "color": "#222"},
      "encoding": {"x": {"datum": "Master", "type": "nominal"}, "text": {"field": "label"}}}
    ]}
  ], "spacing": 3, "bounds": "flush"},
  {"vconcat": [
   {"width": 211, "height": 221,
    "resolve": {"scale": {"y": "independent"}, "axis": {"y": "independent"}},
    "layer": [
     {"data": {"values": [{}]}, "mark": {"type": "rule", "opacity": 0},
      "encoding": {"y": {"datum": 20, "type": "quantitative", "scale": {"type": "log", "domain": [13.365, 62.035], "nice": false},
        "axis": {"orient": "right", "values": [15,17.5,20,22.5,25,27.5,30,32.5,35,37.5,40,42.5,45,47.5,50,52.5,55,57.5], "labelExpr": "datum.value % 5 === 0 ? format(datum.value, 'd') : ''", "labelOverlap": false, "domain": false, "tickSize": 4, "tickColor": "#555", "labelPadding": 2, "title": "Mean virtual radius [mm]", "titlePadding": 4, "titleFontSize": 12.5, "titleAngle": 270, "titleBaseline": "top"}}}},
     {"layer": [
      {"data": {"name": "summary"}, "transform": [{"filter": "datum.panel === 'F'"}],
       "mark": {"type": "rule", "strokeDash": [4, 3], "strokeWidth": 1.3, "color": "#111"},
       "encoding": {
        "x": {"datum": "Master", "type": "nominal", "scale": {"type": "point", "domain": ["Master","gap1","Mean","gap2","gap3","A","B","C","D","E","F","G","H","I","J","K","L","M","N","O","P","Q","R","S","T","U","V","W"], "padding": 0.95, "align": 0.58},
          "axis": {"orient": "bottom", "labels": false, "title": null, "domain": false, "tickSize": -3, "tickColor": "#777"}},
        "x2": {"value": "width"},
        "y": {"field": "master", "type": "quantitative", "scale": {"type": "log", "domain": [10, 1000], "nice": false},
          "axis": {"orient": "left", "values": [10,20,30,40,50,60,70,80,90,100,200,300,400,500,600,700,800,900,1000], "format": "d", "labelExpr": "indexof([10,100,1000], datum.value) >= 0 ? datum.label : ''", "labelOverlap": false, "domain": false, "tickSize": 3, "tickColor": "#aaa", "labelPadding": 2, "title": null}}}},
      {"data": {"name": "summary"}, "transform": [{"filter": "datum.panel === 'F'"}],
       "mark": {"type": "rule", "strokeWidth": 1.3, "color": "#333"},
       "encoding": {"x": {"datum": "Mean", "type": "nominal"}, "y": {"field": "sd_lo", "type": "quantitative"}, "y2": {"field": "sd_hi"}}},
      {"data": {"name": "summary"}, "transform": [{"filter": "datum.panel === 'F'"}],
       "mark": {"type": "tick", "orient": "horizontal", "size": 8, "thickness": 1.3, "color": "#333", "opacity": 1},
       "encoding": {"x": {"datum": "Mean", "type": "nominal"}, "y": {"field": "mean", "type": "quantitative"}}},
      {"data": {"name": "points"}, "transform": [{"filter": "datum.panel === 'F'"}],
       "mark": {"type": "point", "shape": "diamond", "filled": true, "color": "#1f1f66", "size": 45, "opacity": 1},
       "encoding": {"x": {"field": "center", "type": "nominal"}, "y": {"field": "volume", "type": "quantitative"}}},
      {"data": {"name": "summary"}, "transform": [{"filter": "datum.panel === 'F'"}],
       "mark": {"type": "point", "shape": "diamond", "filled": true, "color": "#000", "size": 100, "opacity": 1},
       "encoding": {"x": {"datum": "Master", "type": "nominal"}, "y": {"field": "master", "type": "quantitative"}}},
      {"data": {"name": "summary"}, "transform": [{"filter": "datum.panel === 'F'"}],
       "mark": {"type": "point", "shape": "diamond", "filled": true, "fill": "white", "stroke": "#444", "strokeWidth": 1.2, "size": 55, "opacity": 1},
       "encoding": {"x": {"datum": "Mean", "type": "nominal"}, "y": {"field": "median", "type": "quantitative"}}},
      {"data": {"values": [{"label": "Master-Vol."}]},
       "mark": {"type": "text", "angle": 270, "align": "left", "baseline": "middle", "dx": 3, "fontSize": 7.5, "color": "#000"},
       "encoding": {"x": {"datum": "Master", "type": "nominal"}, "y": {"datum": 10, "type": "quantitative"}, "text": {"field": "label"}}},
      {"data": {"values": [{"label": "F"}]},
       "mark": {"type": "text", "fontSize": 18, "fontWeight": "bold", "baseline": "alphabetic", "dy": -12, "color": "#000"},
       "encoding": {"x": {"datum": "V", "type": "nominal"}, "y": {"datum": 10, "type": "quantitative"}, "text": {"field": "label"}}}
     ]}
    ]},
   {"width": 211, "height": 12, "view": {"stroke": null},
    "layer": [
     {"data": {"values": [{"first": "A", "last": "W"}]},
      "mark": {"type": "rect", "color": "#c6c6c6", "xOffset": -6.5, "x2Offset": 7},
      "encoding": {"x": {"field": "first", "type": "nominal", "scale": {"type": "point", "domain": ["Master","gap1","Mean","gap2","gap3","A","B","C","D","E","F","G","H","I","J","K","L","M","N","O","P","Q","R","S","T","U","V","W"], "padding": 0.95, "align": 0.58},
        "axis": {"orient": "bottom", "labels": false, "ticks": false, "domain": false, "title": "Centers (A-W)", "titleFontSize": 12, "titlePadding": 3, "titleX": 125}},
       "x2": {"field": "last"}}},
     {"data": {"name": "strip"}, "transform": [{"filter": "datum.panel === 'F'"}],
      "mark": {"type": "text", "fontWeight": "bold", "fontSize": 9.5},
      "encoding": {"x": {"field": "center", "type": "nominal"}, "text": {"field": "center"},
       "color": {"field": "grp", "type": "nominal", "scale": {"domain": ["green","red","yellow"], "range": ["#3a9a5c","#e0344e","#ece35e"]}, "legend": null}}},
     {"data": {"values": [{"label": "Mean [*] ± SD\nMedian ◇"}]},
      "mark": {"type": "text", "lineBreak": "\n", "font": "Liberation Sans Narrow, Liberation Sans", "fontSize": 6.5, "align": "left", "dx": -11, "dy": 4, "lineHeight": 9, "color": "#222"},
      "encoding": {"x": {"datum": "Master", "type": "nominal"}, "text": {"field": "label"}}}
    ]}
  ], "spacing": 3, "bounds": "flush"}
 ], "spacing": 32}
]
}
